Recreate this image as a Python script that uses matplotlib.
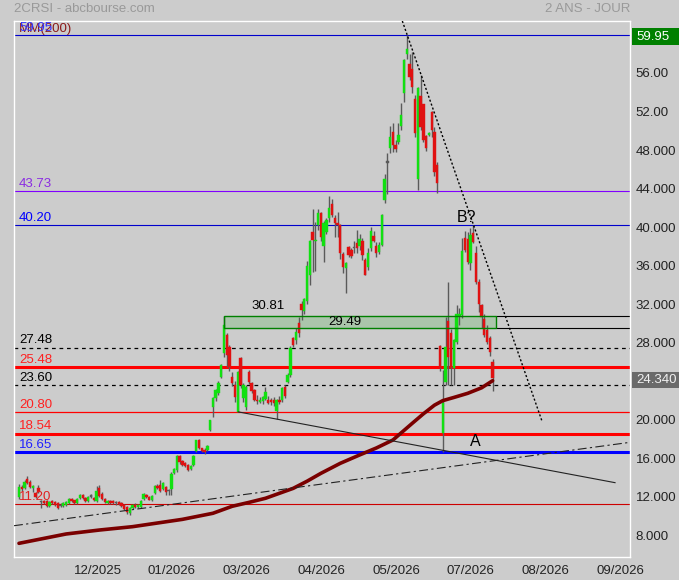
import matplotlib.pyplot as plt
from matplotlib.patches import Rectangle
from matplotlib.transforms import blended_transform_factory
import numpy as np

plt.rcParams['font.family'] = ['Liberation Sans', 'DejaVu Sans']

# bougies journalières, index de barre 0..171
opens = [12.0, 13.0, 12.9, 13.8, 13.5, 12.9, 12.4, 12.9, 11.5, 11.55,
         11.5, 11.0, 11.5, 11.4, 11.3, 11.1, 11.0, 11.1, 11.3, 11.8,
         11.6, 11.3, 11.9, 12.2, 11.9, 11.5, 12.1, 11.9, 11.5, 12.9,
         12.3, 11.8, 11.3, 11.5, 11.5, 11.3, 11.4, 11.3, 11.1, 10.9,
         10.3, 10.8, 11.1, 10.9, 10.9, 11.8, 12.2, 12.0, 11.6, 12.4,
         13.1, 13.2, 12.8, 13.0, 12.6, 12.8, 14.5, 14.8, 16.2, 15.7,
         15.5, 15.3, 14.9, 15.3, 16.7, 17.9, 17.0, 16.8, 16.8, 18.9,
         21.3, 22.2, 22.8, 24.45, 26.88, 28.78, 27.57, 24.45, 23.59, 20.82,
         26.36, 22.2, 21.34, 24.97, 23.8, 23.07, 22.05, 21.8, 21.9, 22.1,
         22.0, 22.0, 22.0, 20.9, 22.0, 22.0, 23.4, 23.94, 24.6, 28.44,
         28.3, 30.0, 32.0, 31.3, 32.35, 35.02, 39.5, 38.55, 40.2, 41.43,
         38.03, 39.52, 40.9, 42.4, 40.9, 40.46, 40.2, 37.2, 35.7, 37.9,
         37.6, 37.8, 38.3, 38.03, 38.55, 36.58, 35.9, 37.79, 39.07, 38.03,
         37.44, 38.13, 42.8, 46.7, 48.18, 49.9, 48.5, 48.87, 50.5, 53.89,
         57.94, 56.94, 56.38, 53.3, 44.96, 53.6, 52.75, 49.46, 49.6, 51.98,
         49.9, 46.44, 27.6, 18.6, 23.94, 30.2, 28.96, 25.32, 28.1, 30.8,
         30.9, 38.83, 38.8, 36.23, 39.35, 37.27, 34.33, 31.9, 30.5, 29.3,
         28.44, 26.0]
highs = [13.3, 13.2, 13.7, 14.1, 13.7, 13.2, 12.5, 13.2, 11.6, 11.7,
         11.6, 11.5, 11.6, 11.5, 11.4, 11.3, 11.4, 11.5, 11.9, 11.9,
         11.7, 11.9, 12.3, 12.3, 12.0, 12.1, 12.3, 12.0, 13.1, 13.2,
         12.5, 11.9, 11.6, 11.6, 11.6, 11.5, 11.5, 11.4, 11.2, 11.0,
         10.9, 11.2, 11.3, 11.2, 11.6, 12.4, 12.3, 12.1, 12.2, 13.2,
         13.3, 13.7, 13.5, 13.1, 12.8, 14.6, 15.0, 16.3, 16.3, 15.8,
         15.6, 15.4, 15.3, 16.3, 17.9, 17.95, 17.1, 17.0, 17.4, 20.0,
         22.3, 23.2, 24.0, 25.8, 30.81, 29.0, 27.8, 24.9, 24.0, 25.1,
         26.5, 23.8, 23.6, 25.2, 23.9, 23.2, 22.6, 22.3, 22.5, 23.4,
         22.4, 22.2, 22.3, 22.1, 22.4, 23.4, 23.6, 24.8, 27.6, 28.6,
         29.5, 30.7, 32.3, 32.6, 36.5, 38.7, 41.9, 40.5, 41.9, 41.6,
         40.6, 40.9, 43.2, 42.9, 41.2, 41.6, 40.3, 37.4, 36.4, 38.0,
         37.8, 38.6, 39.7, 39.3, 38.9, 36.8, 37.8, 40.0, 39.6, 38.4,
         38.4, 41.4, 45.5, 47.7, 50.5, 50.8, 49.0, 50.8, 52.9, 57.5,
         59.95, 58.0, 58.2, 53.7, 54.5, 55.8, 52.8, 49.6, 49.9, 52.1,
         50.4, 46.8, 27.7, 25.2, 30.69, 34.3, 29.4, 28.4, 31.9, 31.6,
         38.9, 39.6, 39.5, 39.9, 40.2, 38.0, 34.6, 32.0, 31.0, 29.8,
         28.7, 26.3]
lows = [11.8, 12.6, 12.8, 13.3, 12.9, 12.5, 11.9, 12.4, 10.8, 11.2,
        10.9, 10.9, 11.2, 11.0, 10.7, 10.9, 10.9, 11.0, 11.2, 11.4,
        11.2, 11.2, 11.8, 11.8, 11.4, 11.4, 11.9, 11.5, 11.4, 12.0,
        11.7, 11.3, 11.2, 11.2, 11.2, 11.1, 11.1, 10.9, 10.6, 10.2,
        10.1, 10.7, 10.8, 10.8, 10.8, 11.7, 11.9, 11.6, 11.5, 12.3,
        12.8, 12.5, 12.7, 12.2, 12.2, 12.2, 14.4, 14.6, 15.4, 15.2,
        15.1, 14.7, 14.8, 15.2, 16.6, 16.9, 16.6, 16.4, 16.7, 18.8,
        20.3, 21.9, 22.6, 24.3, 26.5, 25.5, 25.0, 23.5, 21.8, 20.8,
        23.3, 21.8, 21.0, 23.7, 22.8, 21.9, 21.6, 21.7, 21.6, 22.0,
        21.6, 21.5, 21.4, 20.05, 21.6, 21.8, 22.2, 23.8, 24.4, 27.5,
        27.9, 28.6, 30.3, 31.0, 32.0, 34.0, 35.3, 35.4, 39.7, 38.5,
        36.4, 39.3, 40.5, 41.0, 39.0, 39.0, 36.7, 35.2, 33.1, 36.9,
        36.8, 37.3, 37.3, 37.6, 36.6, 35.0, 35.5, 37.5, 38.4, 36.9,
        37.2, 38.0, 42.5, 43.4, 47.7, 47.8, 47.8, 48.6, 50.1, 53.0,
        57.5, 55.3, 53.9, 49.4, 43.85, 50.1, 48.8, 47.9, 49.5, 49.4,
        45.3, 43.5, 25.0, 16.65, 23.6, 23.6, 23.6, 23.6, 27.9, 29.8,
        30.6, 37.4, 36.2, 35.5, 38.3, 34.1, 31.2, 29.5, 28.6, 27.9,
        26.6, 23.0]
closes = [13.0, 12.8, 13.5, 13.4, 13.0, 13.1, 12.0, 12.5, 11.45, 11.3,
          11.0, 11.4, 11.3, 11.1, 10.8, 11.0, 11.3, 11.4, 11.8, 11.5,
          11.3, 11.8, 12.2, 11.9, 11.5, 12.0, 12.0, 11.6, 12.6, 12.1,
          11.8, 11.4, 11.5, 11.3, 11.3, 11.4, 11.2, 11.0, 10.7, 10.4,
          10.8, 11.1, 10.9, 11.1, 11.5, 12.3, 12.0, 11.7, 12.1, 13.1,
          12.9, 12.6, 13.4, 12.5, 12.7, 14.4, 14.9, 16.2, 15.6, 15.3,
          15.2, 14.8, 15.2, 16.2, 17.85, 17.0, 16.7, 16.6, 17.25, 19.95,
          22.2, 23.07, 23.83, 25.67, 29.82, 26.71, 25.5, 23.76, 22.38, 24.97,
          23.59, 23.59, 23.4, 23.94, 23.0, 22.03, 21.9, 22.05, 22.35, 22.9,
          21.75, 21.8, 21.7, 22.0, 21.8, 23.3, 22.4, 24.6, 27.4, 27.75,
          29.1, 28.96, 31.4, 32.5, 35.95, 38.5, 38.65, 38.7, 41.43, 38.93,
          40.4, 40.73, 41.94, 41.25, 40.46, 40.2, 37.27, 35.9, 36.23, 37.1,
          37.0, 37.85, 37.8, 38.8, 37.1, 35.02, 37.27, 39.59, 38.55, 37.34,
          38.13, 41.25, 44.96, 46.75, 49.39, 48.5, 48.1, 49.56, 51.64, 57.35,
          58.46, 55.55, 54.51, 49.73, 54.41, 50.43, 49.04, 48.18, 49.75, 50.08,
          45.75, 44.54, 25.32, 21.7, 27.57, 26.5, 25.5, 28.26, 30.95, 31.0,
          37.5, 37.6, 36.4, 39.17, 38.48, 34.3, 32.0, 30.69, 28.8, 28.1,
          27.05, 24.34]

# moyenne mobile 200 (points relevés)
mm_bars = [0, 17, 29, 41, 59, 70, 77, 83, 89, 99, 104, 109, 116, 123, 129, 135,
           142, 146, 150, 153, 157, 162, 167, 171]
mm_vals = [7.15, 8.12, 8.53, 8.88, 9.64, 10.27, 11.0, 11.4, 11.83, 12.86, 13.6,
           14.42, 15.46, 16.33, 17.05, 17.88, 19.62, 20.6, 21.5, 21.97, 22.3,
           22.73, 23.3, 24.04]

# niveaux horizontaux
levels = [59.95, 43.73, 40.20, 27.48, 25.48, 23.60, 20.80, 18.54, 16.65, 11.20]
level_colors = ['#0000cc', '#8000ff', '#0000cc', 'black', '#ff0000', 'black',
                '#ff0000', '#ff0000', '#0000ff', '#cc0000']
level_text_colors = ['#3333ff', '#8a2be2', '#0000ff', 'black', '#ff2020', 'black',
                     '#ff2020', '#ff2020', '#2020ff', '#e02020']
level_widths = [0.8, 0.8, 0.8, 0.9, 2.2, 0.9, 0.9, 2.2, 2.2, 0.8]
zone_top, zone_bottom = 30.81, 29.49

# droites de tendance (extrémités)
steep_x, steep_y = [138.4, 188.9], [61.4, 19.78]
down_x, down_y = [79.2, 215.2], [20.8, 13.45]
up_x, up_y = [-1.8, 220.6], [8.98, 17.64]

xtick_pos = [28.6, 55.1, 82.2, 109.3, 136.4, 163.1, 190.1, 217.2]
xtick_lab = ['12/2025', '01/2026', '03/2026', '04/2026', '05/2026', '07/2026', '08/2026', '09/2026']
ytick_pos = [8, 12, 16, 20, 28, 32, 36, 40, 44, 48, 52, 56]
ytick_lab = ['8.000', '12.000', '16.000', '20.000', '28.000', '32.000', '36.000',
             '40.000', '44.000', '48.000', '52.00', '56.00']
last_price = 24.34

bg = '#cccccc'
fig = plt.figure(figsize=(6.79, 5.80), dpi=100, facecolor=bg)
ax = fig.add_axes([14 / 679, 23 / 580, 616 / 679, 536 / 580], facecolor=bg)
ax.set_xlim(-1.8, 220.6)
ax.set_ylim(5.73, 61.4)

# niveaux
for v, c, w in zip(levels, level_colors, level_widths):
    ls = (0, (3, 3)) if c == 'black' else '-'
    ax.axhline(v, color=c, lw=w, ls=ls, zorder=2)
for v, tc in zip(levels, level_text_colors):
    ax.annotate(f'{v:.2f}', xy=(0, v), xycoords=ax.get_yaxis_transform(),
                xytext=(3.6, 3), textcoords='offset points', ha='left', va='baseline',
                color=tc, fontsize=9.5, zorder=6)

# zone 30.81 / 29.49
x_box0, x_box1 = 74, 172.1
ax.hlines([zone_top, zone_bottom], x_box1, 220.6, color='black', lw=0.8, zorder=2)
ax.add_patch(Rectangle((x_box0, zone_bottom), x_box1 - x_box0, zone_top - zone_bottom,
                       facecolor='#90c090', alpha=0.55, edgecolor='none', zorder=1))
ax.add_patch(Rectangle((x_box0, zone_bottom), x_box1 - x_box0, zone_top - zone_bottom,
                       facecolor='none', edgecolor='#008000', lw=1.0, zorder=4))
ax.text(89.9, zone_top + 0.35, f'{zone_top:.2f}', ha='center', va='bottom', fontsize=9.5, zorder=6)
ax.text(117.7, (zone_top + zone_bottom) / 2, f'{zone_bottom:.2f}', ha='center', va='center',
        fontsize=9.5, zorder=6)

# droites
ax.plot(steep_x, steep_y, color='black', lw=1.0, ls=(0, (1.5, 1.5)), zorder=5)
ax.plot(down_x, down_y, color='#222222', lw=0.8, zorder=5)
ax.plot(up_x, up_y, color='#222222', lw=0.8, ls=(0, (8, 3, 2, 3)), zorder=5)

# bougies
x = np.arange(len(closes))
o, h, l, c = map(np.array, (opens, highs, lows, closes))
ax.vlines(x, l, h, color='#5a5a5a', lw=1.0, zorder=3)
doji = np.abs(c - o) < 0.12
col = np.where(c >= o, '#11e011', '#e01111')
col = np.where(doji, '#5a5a5a', col)
bot = np.minimum(o, c)
hgt = np.maximum(np.abs(c - o), 0.14)
ax.bar(x, hgt, bottom=bot, width=0.85, color=col, edgecolor=col, linewidth=0.3,
       zorder=3.5)

# MM(200)
ax.plot(mm_bars, mm_vals, color='#7a0000', lw=2.6, solid_capstyle='round',
        solid_joinstyle='round', zorder=4.5)
ax.annotate('MM(200)', xy=(0, 1), xycoords='axes fraction', xytext=(3.6, -8),
            textcoords='offset points', va='baseline', color='#8b1a1a', fontsize=9.5)

ax.text(161.4, 41.0, 'B?', ha='center', va='center', fontsize=11.5, zorder=6)
ax.text(164.6, 17.7, 'A', ha='center', va='center', fontsize=11.5, zorder=6)

# axes
for s in ax.spines.values():
    s.set_color('white')
    s.set_linewidth(1)
ax.yaxis.tick_right()
ax.set_yticks(ytick_pos)
ax.set_yticklabels(ytick_lab)
ax.set_xticks(xtick_pos)
ax.set_xticklabels(xtick_lab)
ax.tick_params(axis='y', length=0, pad=4, labelsize=9.5, labelcolor='#222222')
ax.tick_params(axis='x', length=0, pad=6, labelsize=9.5, labelcolor='#222222')

# étiquettes de prix à droite
tr = blended_transform_factory(fig.transFigure, ax.transData)
for v, yc, fc, tcol in [(59.95, 59.78, '#008000', 'white'), (last_price, 24.12, '#6a6a6a', '#f0f0f0')]:
    fig.add_artist(Rectangle((632 / 679, yc - 0.87), 47 / 679, 1.74, transform=tr,
                             facecolor=fc, edgecolor='none', clip_on=False))
    fig.text(636 / 679, yc, f'{v:.2f}' if v > 50 else f'{v:.3f}', transform=tr,
             ha='left', va='center', color=tcol, fontsize=9.5)

fig.text(14 / 679, 1 - 9 / 580, '2CRSI - abcbourse.com', ha='left', va='center',
         color='#999999', fontsize=9.5)
fig.text(630 / 679, 1 - 9 / 580, '2 ANS - JOUR', ha='right', va='center',
         color='#999999', fontsize=9.5)

fig.savefig('out.png', dpi=100, facecolor=bg)
